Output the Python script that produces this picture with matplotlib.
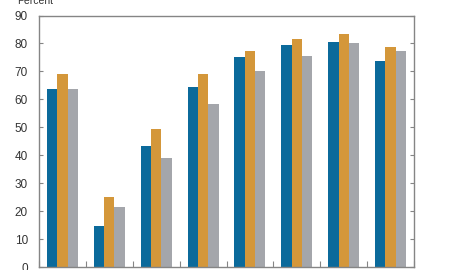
import numpy as np
import matplotlib
matplotlib.use("Agg")
from matplotlib import pyplot as plt

plt.rcParams['font.family'] = ['Liberation Sans', 'DejaVu Sans']

# values (percent)
series1 = [63.8, 14.6, 43.3, 64.4, 75.3, 79.3, 80.5, 73.6]
series2 = [68.9, 25.0, 49.4, 69.1, 77.2, 81.7, 83.4, 78.8]
series3 = [63.7, 21.6, 39.0, 58.4, 70.0, 75.4, 80.2, 77.2]
yticks = [0, 10, 20, 30, 40, 50, 60, 70, 80, 90]

colors = ['#0b6a9b', '#d4973a', '#a4a6ab']
spine_col = '#858585'

fig = plt.figure(figsize=(4.5, 2.7), dpi=100)
ax = fig.add_axes([39/450, 3/270, 375/450, 251.5/270])

n = len(series1)
x = np.arange(n)
w = 0.22
for i, (vals, c) in enumerate(zip([series1, series2, series3], colors)):
	ax.bar(x + (i - 1)*w, vals, width=w, color=c, linewidth=0)

ax.set_xlim(-0.5, n - 0.5)
ax.set_ylim(0, 90)
ax.set_yticks(yticks)
ax.set_yticklabels([str(t) for t in yticks], fontsize=8.5, color='#333333')
ax.set_xticks(np.arange(n + 1) - 0.5)
ax.set_xticklabels([])

for s in ax.spines.values():
	s.set_color(spine_col)
	s.set_linewidth(1.0)

ax.tick_params(axis='y', direction='in', length=3, width=0.8, color=spine_col,
	right=True, pad=8)
ax.tick_params(axis='x', direction='in', length=4, width=0.8, color=spine_col)

fig.text(17/450, 1 - 1/270, "Percent", fontsize=7.5, color='#333333', ha='left', va='center')

fig.savefig("out.png", dpi=100)
